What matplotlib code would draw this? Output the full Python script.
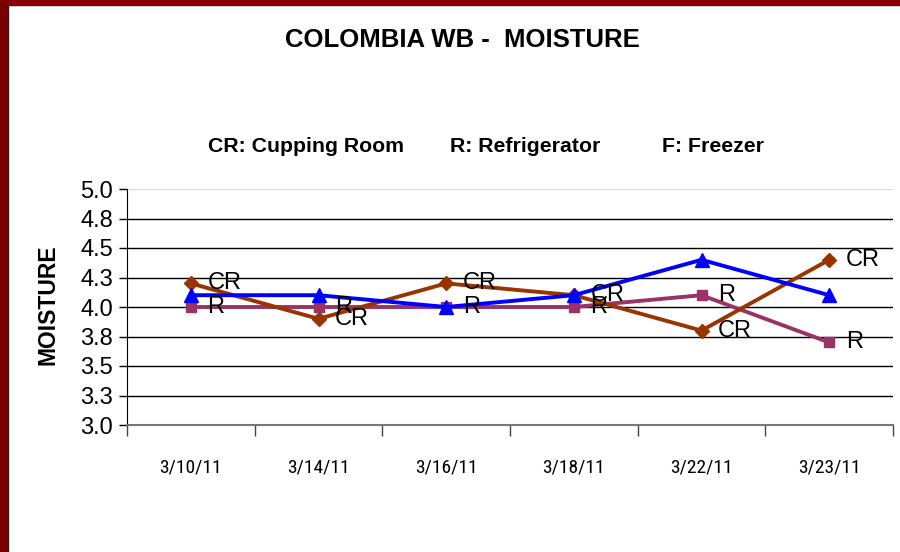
import matplotlib
matplotlib.use("Agg")
import matplotlib.pyplot as plt
import matplotlib.font_manager as fm
from matplotlib.patches import Rectangle
from matplotlib.lines import Line2D

dates = ["3/10/11", "3/14/11", "3/16/11", "3/18/11", "3/22/11", "3/23/11"]
cupping_room = [4.2, 3.9, 4.2, 4.1, 3.8, 4.4]
refrigerator = [4.0, 4.0, 4.0, 4.0, 4.1, 3.7]
freezer = [4.1, 4.1, 4.0, 4.1, 4.4, 4.1]
y_ticks = [3.0, 3.25, 3.5, 3.75, 4.0, 4.25, 4.5, 4.75, 5.0]
y_tick_labels = ["3.0", "3.3", "3.5", "3.8", "4.0", "4.3", "4.5", "4.8", "5.0"]

plt.rcParams['font.family'] = ['Liberation Sans', 'DejaVu Sans']

# the date labels are in a narrow face; use one if the system has it
def narrow_font():
    fonts = fm.fontManager.ttflist
    for want in ["Liberation Sans Narrow", "Arial Narrow", "Roboto Condensed", "DejaVu Sans Condensed"]:
        for f in fonts:
            if f.name == want and f.style == "normal" and f.weight in (400, "normal", "regular"):
                return fm.FontProperties(fname=f.fname, size=14)
    for f in fonts:
        if str(f.stretch) in ("condensed", "semi-condensed") and f.style == "normal" \
                and f.weight in (400, "normal", "regular"):
            return fm.FontProperties(fname=f.fname, size=14)
    return fm.FontProperties(family="Liberation Sans", size=13.5)

fig = plt.figure(figsize=(9, 5.52), dpi=100)
ax = fig.add_axes([127/900, 1-425/552, (893-127)/900, (425-189)/552])

x = list(range(len(dates)))
ax.plot(x, cupping_room, color="#993300", lw=2.8, marker="D", ms=7.5, zorder=4)
ax.plot(x, refrigerator, color="#993366", lw=2.8, marker="s", ms=7.5, zorder=3)
ax.plot(x, freezer, color="#0000ff", lw=2.8, marker="^", ms=10, zorder=5)

for i in x:
    ax.annotate("CR", (i, cupping_room[i]), xytext=(12, 0), textcoords="offset points",
                va="center", ha="left", fontsize=17, zorder=6)
    ax.annotate("R", (i, refrigerator[i]), xytext=(12, 0), textcoords="offset points",
                va="center", ha="left", fontsize=17, zorder=6)

ax.set_xlim(-0.5, len(dates) - 0.5)
ax.set_ylim(3.0, 5.0)
ax.set_yticks(y_ticks)
ax.set_yticklabels(y_tick_labels, fontsize=17)
for v in y_ticks[1:]:
    ax.axhline(v, color="#dddddd" if v == 5.0 else "black", lw=1, zorder=1)

ax.set_xticks(x)
ax.set_xticklabels(dates, fontproperties=narrow_font())
ax.set_xticks([i - 0.5 for i in range(len(dates) + 1)], minor=True)
ax.tick_params(axis="x", which="major", length=0, pad=24)
ax.tick_params(axis="x", which="minor", length=8, color="#444444", width=1)
ax.tick_params(axis="y", length=6, width=1, pad=4)

for s in ["top", "right"]:
    ax.spines[s].set_visible(False)
ax.spines["left"].set_color("black")
ax.spines["bottom"].set_color("#777777")
ax.spines["bottom"].set_linewidth(1.5)

ax.set_ylabel("MOISTURE", fontsize=16.5, fontweight="bold")
ax.yaxis.set_label_coords((59-127)/766, (425-305)/236)

fig.text(462/900, 1-40/552, "COLOMBIA WB -  MOISTURE", ha="center", va="center",
         fontsize=18.5, fontweight="bold")
fig.text(208/900, 1-147/552, "CR: Cupping Room", ha="left", va="center", fontsize=15.3, fontweight="bold")
fig.text(450/900, 1-147/552, "R: Refrigerator", ha="left", va="center", fontsize=15.3, fontweight="bold")
fig.text(662/900, 1-147/552, "F: Freezer", ha="left", va="center", fontsize=15.3, fontweight="bold")

# dark red frame on top and left edges
fig.patches.append(Rectangle((0, 1-4/552), 1, 4/552, transform=fig.transFigure,
                             color="#8a0000", zorder=10))
fig.patches.append(Rectangle((0, 0), 7/900, 1, transform=fig.transFigure,
                             color="#780000", zorder=10))
fig.lines.append(Line2D([7/900, 1], [1-4.5/552, 1-4.5/552], transform=fig.transFigure,
                        color="#222222", lw=1))
fig.lines.append(Line2D([7.5/900, 7.5/900], [0, 1-4/552], transform=fig.transFigure,
                        color="#222222", lw=1))

fig.savefig("out.png", dpi=100)
